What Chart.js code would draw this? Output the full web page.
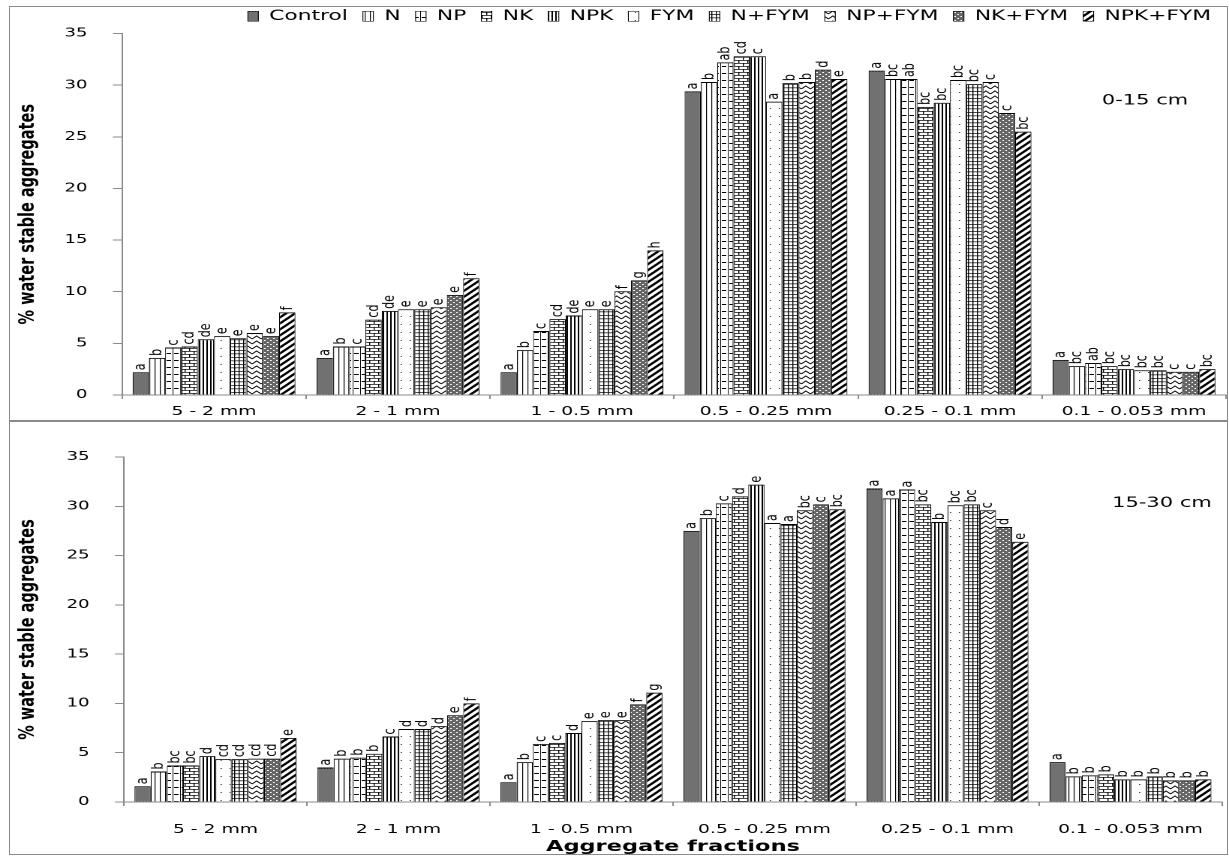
<!DOCTYPE html>
<html>
<head>
<meta charset="utf-8">
<script src="https://cdn.jsdelivr.net/npm/chart.js@4.4.0/dist/chart.umd.min.js"></script>
<style>
  html, body { margin: 0; padding: 0; background: #fff; }
  body { width: 1229px; height: 856px; overflow: hidden; position: relative; }
  canvas { position: absolute; left: 0; transform-origin: 0 0; }
  #topChart { top: 0; }
  #bottomChart { top: 420px; }
  .frame { position: absolute; border: 1.5px solid #8a8a8a; box-sizing: border-box; pointer-events: none; }
</style>
</head>
<body>
<canvas id="topChart" width="819" height="420"></canvas>
<canvas id="bottomChart" width="819" height="436"></canvas>
<div class="frame" style="left:9px;top:6px;width:1219px;height:416px"></div>
<div class="frame" style="left:9px;top:420px;width:1219px;height:435px"></div>
<script>
const categories = ['5 - 2 mm', '2 - 1 mm', '1 - 0.5 mm', '0.5 - 0.25 mm', '0.25 - 0.1 mm', '0.1 - 0.053 mm'];
const treatments = ['Control', 'N', 'NP', 'NK', 'NPK', 'FYM', 'N+FYM', 'NP+FYM', 'NK+FYM', 'NPK+FYM'];
const yTicks = [0, 5, 10, 15, 20, 25, 30, 35];

// 0-15 cm, one array per aggregate fraction, in treatment order
const top5to2 = [2.2, 3.6, 4.6, 4.7, 5.4, 5.7, 5.5, 6.0, 5.7, 8.0];
const top2to1 = [3.6, 4.7, 4.7, 7.3, 8.15, 8.3, 8.3, 8.5, 9.7, 11.3];
const top1to05 = [2.2, 4.35, 6.2, 7.35, 7.7, 8.3, 8.3, 10.05, 11.1, 14.0];
const top05to025 = [29.4, 30.3, 32.2, 32.8, 32.8, 28.4, 30.2, 30.3, 31.5, 30.6];
const top025to01 = [31.4, 30.6, 30.6, 27.9, 28.3, 30.5, 30.1, 30.3, 27.3, 25.5];
const top01to0053 = [3.4, 2.8, 3.1, 2.8, 2.5, 2.4, 2.4, 2.25, 2.25, 2.5];

const topLet5to2 = ['a', 'b', 'c', 'cd', 'de', 'e', 'e', 'e', 'e', 'f'];
const topLet2to1 = ['a', 'b', 'c', 'cd', 'de', 'e', 'e', 'e', 'e', 'f'];
const topLet1to05 = ['a', 'b', 'c', 'cd', 'de', 'e', 'e', 'f', 'g', 'h'];
const topLet05to025 = ['a', 'b', 'ab', 'cd', 'c', 'a', 'b', 'b', 'd', 'e'];
const topLet025to01 = ['a', 'bc', 'ab', 'bc', 'bc', 'bc', 'bc', 'c', 'c', 'bc'];
const topLet01to0053 = ['a', 'bc', 'ab', 'bc', 'bc', 'bc', 'bc', 'c', 'c', 'bc'];

// 15-30 cm
const bot5to2 = [1.6, 3.1, 3.7, 3.7, 4.65, 4.35, 4.35, 4.4, 4.4, 6.5];
const bot2to1 = [3.5, 4.4, 4.5, 4.9, 6.65, 7.4, 7.4, 7.7, 8.8, 10.0];
const bot1to05 = [2.0, 4.05, 5.9, 6.0, 7.0, 8.2, 8.3, 8.3, 9.9, 11.1];
const bot05to025 = [27.5, 28.8, 30.3, 31.0, 32.2, 28.3, 28.2, 29.6, 30.2, 29.7];
const bot025to01 = [31.8, 30.8, 31.7, 30.2, 28.4, 30.1, 30.2, 29.6, 27.9, 26.4];
const bot01to0053 = [4.05, 2.6, 2.7, 2.8, 2.3, 2.3, 2.6, 2.2, 2.2, 2.3];

const botLet5to2 = ['a', 'b', 'bc', 'bc', 'd', 'cd', 'cd', 'cd', 'cd', 'e'];
const botLet2to1 = ['a', 'b', 'b', 'b', 'c', 'd', 'd', 'd', 'e', 'f'];
const botLet1to05 = ['a', 'b', 'c', 'c', 'd', 'e', 'e', 'e', 'f', 'g'];
const botLet05to025 = ['a', 'b', 'c', 'd', 'e', 'a', 'a', 'bc', 'c', 'bc'];
const botLet025to01 = ['a', 'a', 'a', 'bc', 'b', 'bc', 'bc', 'c', 'd', 'e'];
const botLet01to0053 = ['a', 'b', 'b', 'b', 'b', 'b', 'b', 'b', 'b', 'b'];

const topRows = [top5to2, top2to1, top1to05, top05to025, top025to01, top01to0053];
const topLetters = [topLet5to2, topLet2to1, topLet1to05, topLet05to025, topLet025to01, topLet01to0053];
const botRows = [bot5to2, bot2to1, bot1to05, bot05to025, bot025to01, bot01to0053];
const botLetters = [botLet5to2, botLet2to1, botLet1to05, botLet05to025, botLet025to01, botLet01to0053];

// the picture is stretched sideways, so draw narrow and scale the canvas
const STRETCH = 1229 / 819;
const R = 2;

function pattern(w, h, draw) {
  const c = document.createElement('canvas');
  c.width = w * R; c.height = h * R;
  const g = c.getContext('2d');
  g.scale(R, R);
  g.fillStyle = '#fff';
  g.fillRect(0, 0, w, h);
  g.fillStyle = '#000';
  g.strokeStyle = '#000';
  draw(g, w, h);
  const p = g.createPattern(c, 'repeat');
  p.setTransform(new DOMMatrix([1 / R, 0, 0, 1 / R, 0, 0]));
  return p;
}

const fills = [
  // Control: dark fine texture
  pattern(1, 1, g => {
    g.fillStyle = '#333'; g.fillRect(0, 0, 1, 1);
    g.fillStyle = '#b0b0b0'; g.fillRect(0, 0, 0.5, 0.5); g.fillRect(0.5, 0.5, 0.5, 0.5);
  }),
  // N: light vertical
  pattern(3.5, 1, g => g.fillRect(1.5, 0, 0.6, 1)),
  // NP: dashes
  pattern(5, 7, g => { g.fillRect(1, 3, 3, 1); g.fillRect(0, 0, 0.5, 7); }),
  // NK: brick
  pattern(6, 6, g => { g.fillRect(0, 0, 6, 0.7); g.fillRect(0, 3, 6, 0.7); g.fillRect(0, 0, 0.7, 3); g.fillRect(3, 3, 0.7, 3); }),
  // NPK: dark vertical
  pattern(2.5, 1, g => g.fillRect(0, 0, 1, 1)),
  // FYM: sparse dots
  pattern(6, 8, g => g.fillRect(3, 4, 0.8, 0.8)),
  // N+FYM: small grid
  pattern(3, 3.5, g => { g.fillRect(0, 0, 0.7, 3.5); g.fillRect(0, 0, 3, 0.7); }),
  // NP+FYM: zigzag
  pattern(6, 5, g => { g.lineWidth = 0.8; g.beginPath(); g.moveTo(0, 4); g.lineTo(3, 1); g.lineTo(6, 4); g.stroke(); }),
  // NK+FYM: dark with white dots
  pattern(4, 4, g => {
    g.fillStyle = '#333'; g.fillRect(0, 0, 4, 4);
    g.fillStyle = '#9a9a9a';
    for (let i = 0; i < 8; i++) for (let j = 0; j < 8; j++) if ((i + j) % 2 === 0) g.fillRect(i / 2, j / 2, 0.5, 0.5);
    g.fillStyle = '#fff'; g.fillRect(0, 0, 1, 1); g.fillRect(2, 2, 1, 1);
  }),
  // NPK+FYM: wide upward diagonal
  pattern(6, 6, g => {
    g.lineWidth = 1.9; g.lineCap = 'square';
    [-6, 0, 6].forEach(k => { g.beginPath(); g.moveTo(k, 6); g.lineTo(k + 6, 0); g.stroke(); });
  })
];

function makeDatasets(rows, letters) {
  return treatments.map((name, i) => ({
    label: name,
    data: rows.map(r => r[i]),
    letters: letters.map(r => r[i]),
    backgroundColor: fills[i],
    borderColor: '#000',
    borderWidth: { top: 1, left: 0.6, right: 0.6, bottom: 0 },
    borderSkipped: false,
    categoryPercentage: 0.885,
    barPercentage: 1.0
  }));
}

const lettersPlugin = {
  id: 'letters',
  afterDatasetsDraw(chart) {
    const ctx = chart.ctx;
    ctx.save();
    ctx.font = '11px "DejaVu Sans"';
    ctx.fillStyle = '#000';
    ctx.textAlign = 'left';
    ctx.textBaseline = 'middle';
    chart.data.datasets.forEach((ds, i) => {
      chart.getDatasetMeta(i).data.forEach((bar, j) => {
        ctx.save();
        ctx.translate(bar.x, bar.y - 2);
        ctx.rotate(-Math.PI / 2);
        ctx.fillText(ds.letters[j], 0, 0);
        ctx.restore();
      });
    });
    ctx.restore();
  }
};

const depthPlugin = {
  id: 'depth',
  afterDraw(chart, args, opts) {
    const { ctx, chartArea, scales } = chart;
    ctx.save();
    ctx.font = '14px "DejaVu Sans"';
    ctx.fillStyle = '#000';
    ctx.textAlign = 'center';
    ctx.textBaseline = 'middle';
    ctx.fillText(opts.text, chartArea.right + opts.dx, scales.y.getPixelForValue(opts.value));
    ctx.restore();
  }
};

Chart.defaults.font.family = "'DejaVu Sans', sans-serif";
Chart.defaults.color = '#000';

function makeOptions(o) {
  return {
    responsive: false,
    devicePixelRatio: 2,
    animation: false,
    layout: { padding: o.padding },
    plugins: {
      legend: o.legend,
      tooltip: { enabled: false },
      depth: o.depth
    },
    scales: {
      x: {
        grid: { offset: true, drawOnChartArea: false, tickLength: 4, color: '#8a8a8a' },
        border: { color: '#8a8a8a', width: 1 },
        ticks: { font: { size: 12.5 }, padding: o.xPad, maxRotation: 0 },
        title: o.xTitle,
        afterFit: s => { s.height = o.xHeight; }
      },
      y: {
        min: 0,
        max: 35,
        afterBuildTicks: s => { s.ticks = yTicks.map(v => ({ value: v })); },
        grid: { drawOnChartArea: false, tickLength: 6, color: '#8a8a8a' },
        border: { color: '#8a8a8a', width: 1 },
        ticks: { font: { size: 12 }, padding: 17 },
        title: {
          display: true,
          text: '% water stable aggregates',
          font: { size: 14.5, weight: 'bold' },
          padding: { top: 10, bottom: 0 }
        },
        afterFit: s => { s.width = o.yWidth; }
      }
    }
  };
}

const topCanvas = document.getElementById('topChart');
const bottomCanvas = document.getElementById('bottomChart');

const topChart = new Chart(topCanvas.getContext('2d'), {
  type: 'bar',
  data: { labels: categories, datasets: makeDatasets(topRows, topLetters) },
  options: makeOptions({
    padding: { top: -1, right: 2, bottom: 0, left: 0 },
    legend: {
      display: true,
      position: 'top',
      align: 'end',
      labels: { boxWidth: 7, boxHeight: 10, padding: 10, font: { size: 14.5 }, color: '#000' }
    },
    depth: { text: '0-15 cm', value: 28.5, dx: -54 },
    xPad: 5,
    xHeight: 25,
    xTitle: { display: false },
    yWidth: 81.3
  }),
  plugins: [lettersPlugin, depthPlugin]
});

const bottomChart = new Chart(bottomCanvas.getContext('2d'), {
  type: 'bar',
  data: { labels: categories, datasets: makeDatasets(botRows, botLetters) },
  options: makeOptions({
    padding: { top: 37, right: 4.7, bottom: 0, left: 0 },
    legend: { display: false },
    depth: { text: '15-30 cm', value: 30.3, dx: -40 },
    xPad: 16,
    xHeight: 54,
    xTitle: {
      display: true,
      text: 'Aggregate fractions',
      font: { size: 15, weight: 'bold' },
      padding: { top: 0, bottom: 0 }
    },
    yWidth: 82.6
  }),
  plugins: [lettersPlugin, depthPlugin]
});

topCanvas.style.transform = 'scaleX(' + STRETCH + ')';
bottomCanvas.style.transform = 'scaleX(' + STRETCH + ')';
</script>
</body>
</html>
